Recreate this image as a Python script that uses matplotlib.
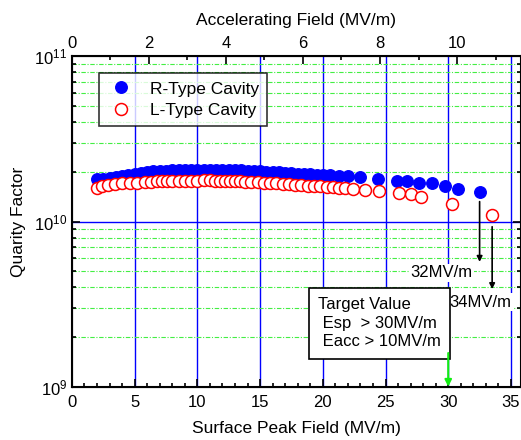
import numpy as np
import matplotlib
matplotlib.use("Agg")
import matplotlib.pyplot as plt
from matplotlib.ticker import MultipleLocator, LogLocator, NullFormatter

plt.rcParams['font.family'] = ['Liberation Sans', 'DejaVu Sans']
plt.rcParams['mathtext.default'] = 'regular'

# Data (Esp in MV/m, Q0)
r_esp = [2.0, 2.5, 3.0, 3.5, 4.0, 4.5, 5.0, 5.5, 6.0, 6.5, 7.0, 7.5, 8.0, 8.5,
         9.0, 9.5, 10.0, 10.5, 11.0, 11.5, 12.0, 12.5, 13.0, 13.5, 14.0, 14.5,
         15.0, 15.5, 16.0, 16.5, 17.0, 17.5, 18.0, 18.5, 19.0, 19.5, 20.0,
         20.6, 21.3, 22.0, 23.0, 24.4, 25.9, 26.7, 27.7, 28.7, 29.75, 30.8, 32.5]
r_q = [1.80e10, 1.82e10, 1.84e10, 1.86e10, 1.88e10, 1.90e10, 1.93e10, 1.96e10,
       1.99e10, 2.01e10, 2.02e10, 2.03e10, 2.04e10, 2.05e10, 2.05e10, 2.05e10,
       2.06e10, 2.05e10, 2.05e10, 2.06e10, 2.05e10, 2.05e10, 2.04e10, 2.04e10,
       2.03e10, 2.02e10, 2.01e10, 2.00e10, 2.00e10, 1.99e10, 1.97e10, 1.96e10,
       1.95e10, 1.94e10, 1.93e10, 1.92e10, 1.91e10, 1.90e10, 1.89e10, 1.88e10,
       1.87e10, 1.82e10, 1.77e10, 1.75e10, 1.72e10, 1.70e10, 1.65e10, 1.58e10,
       1.50e10]

l_esp = [2.0, 2.4, 2.9, 3.4, 4.0, 4.6, 5.2, 5.8, 6.3, 6.8, 7.2, 7.6, 8.0, 8.5,
         9.0, 9.5, 10.0, 10.5, 11.0, 11.4, 11.8, 12.2, 12.6, 13.0, 13.4, 13.8,
         14.3, 14.8, 15.3, 15.8, 16.3, 16.8, 17.3, 17.8, 18.3, 18.8, 19.3,
         19.8, 20.3, 20.8, 21.3, 21.8, 22.4, 23.4, 24.5, 26.1, 27.0, 27.8,
         30.3, 33.5]
l_q = [1.60e10, 1.63e10, 1.66e10, 1.68e10, 1.70e10, 1.71e10, 1.72e10, 1.73e10,
       1.74e10, 1.75e10, 1.75e10, 1.76e10, 1.76e10, 1.76e10, 1.77e10, 1.77e10,
       1.77e10, 1.78e10, 1.78e10, 1.77e10, 1.77e10, 1.76e10, 1.76e10, 1.75e10,
       1.75e10, 1.74e10, 1.74e10, 1.73e10, 1.72e10, 1.71e10, 1.70e10, 1.69e10,
       1.68e10, 1.67e10, 1.66e10, 1.65e10, 1.64e10, 1.63e10, 1.62e10, 1.61e10,
       1.60e10, 1.59e10, 1.58e10, 1.56e10, 1.52e10, 1.48e10, 1.46e10, 1.40e10,
       1.27e10, 1.10e10]

esp_per_eacc = 3.07
xmax = 35.8

fig = plt.figure(figsize=(5.21, 4.40), dpi=100)
ax = fig.add_axes([0.138, 0.121, 0.862, 0.751])

ax.set_yscale('log')
ax.set_xlim(0, xmax)
ax.set_ylim(1e9, 1e11)

# grid
for xv in range(5, 36, 5):
    ax.axvline(xv, color='blue', lw=1.0, zorder=1)
ax.axhline(1e10, color='blue', lw=1.0, zorder=1)
for dec in (1e9, 1e10):
    for m in range(2, 10):
        ax.axhline(m * dec, color='#44ee44', lw=0.8, ls=(0, (4, 1.5, 1, 1.5)), zorder=1)

ax.plot(r_esp, r_q, 'o', color='blue', ms=8.3, mec='blue', label='R-Type Cavity', zorder=3)
ax.plot(l_esp, l_q, 'o', mfc='white', mec='red', mew=1.1, ms=8.6, label='L-Type Cavity', zorder=3)

# ticks
ax.xaxis.set_major_locator(MultipleLocator(5))
ax.xaxis.set_minor_locator(MultipleLocator(1))
ax.yaxis.set_major_locator(LogLocator(base=10, numticks=5))
ax.yaxis.set_minor_locator(LogLocator(base=10, subs=np.arange(2, 10), numticks=20))
ax.yaxis.set_minor_formatter(NullFormatter())
ax.tick_params(which='both', direction='in', top=False, right=True, labelsize=12, width=1.2)
ax.tick_params(which='major', length=6)
ax.tick_params(which='minor', length=3)
ax.tick_params(axis='x', pad=6)
for sp in ax.spines.values():
    sp.set_linewidth(1.5)

ax.set_xlabel('Surface Peak Field (MV/m)', fontsize=12.5, labelpad=8)
ax.set_ylabel('Quarity Factor', fontsize=12.5, labelpad=6)

# top axis: accelerating field
ax2 = ax.twiny()
ax2.set_xlim(0, xmax / esp_per_eacc)
ax2.xaxis.set_major_locator(MultipleLocator(2))
ax2.xaxis.set_minor_locator(MultipleLocator(1))
ax2.tick_params(which='both', direction='in', labelsize=12, width=1.2)
ax2.tick_params(which='major', length=6)
ax2.tick_params(which='minor', length=3)
ax2.set_xlabel('Accelerating Field (MV/m)', fontsize=12.5, labelpad=8)

leg = ax.legend(loc='upper left', bbox_to_anchor=(0.06, 0.95), fontsize=12.5,
                frameon=True, fancybox=False, edgecolor='black', borderpad=0.45,
                borderaxespad=0, handletextpad=0.9, labelspacing=0.3,
                handlelength=1.6, handleheight=0.9)
leg.get_frame().set_linewidth(1.2)
leg.set_zorder(5)

# annotations
arrowprops = dict(arrowstyle='-|>', color='black', lw=1.2, mutation_scale=8,
                  shrinkA=0, shrinkB=0)
ax.annotate('', xy=(32.5, 5.7e9), xytext=(32.5, 1.32e10), arrowprops=arrowprops, zorder=4)
ax.annotate('', xy=(33.5, 3.9e9), xytext=(33.5, 9.3e9), arrowprops=arrowprops, zorder=4)
ax.text(27.0, 4.9e9, '32MV/m', fontsize=12, ha='left', va='center', zorder=4,
        bbox=dict(facecolor='white', edgecolor='none', pad=1))
ax.text(30.1, 3.25e9, '34MV/m', fontsize=12, ha='left', va='center', zorder=4,
        bbox=dict(facecolor='white', edgecolor='none', pad=1))

ax.text(19.6, 2.42e9, 'Target Value\n Esp  > 30MV/m\n Eacc > 10MV/m', fontsize=12,
        ha='left', va='center', linespacing=1.3, zorder=4,
        bbox=dict(facecolor='white', edgecolor='black', lw=1.2,
                  boxstyle='square,pad=0.55'))

ax.annotate('', xy=(30, 1e9), xytext=(30, 1.6e9),
            arrowprops=dict(arrowstyle='-|>', color='#11ee11', lw=1.5,
                            mutation_scale=10, shrinkA=0, shrinkB=0), zorder=4)

fig.savefig('out.png', dpi=100)
